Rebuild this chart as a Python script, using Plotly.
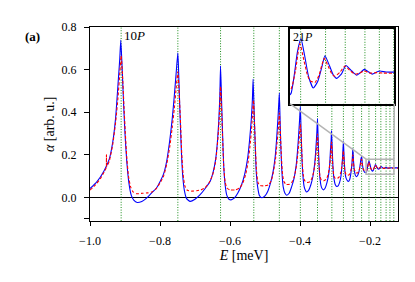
import plotly.graph_objects as go

# ---------------- data ----------------
# Rydberg P-exciton positions n = 10 ... 26 (meV)
peak_E = [-0.911, -0.749, -0.627, -0.532, -0.459, -0.399, -0.350, -0.309,
          -0.276, -0.248, -0.224, -0.203, -0.184, -0.169, -0.154, -0.143, -0.132]

blue_E = [-1.0, -0.98, -0.96, -0.945, -0.935, -0.927, -0.920, -0.915, -0.912, -0.908,
          -0.904, -0.900, -0.895, -0.889, -0.882, -0.875, -0.865, -0.852, -0.84, -0.825,
          -0.81, -0.80, -0.79, -0.781, -0.772, -0.765, -0.759, -0.754, -0.749, -0.746,
          -0.743, -0.739, -0.735, -0.730, -0.724, -0.714, -0.70, -0.686, -0.672, -0.657,
          -0.648, -0.641, -0.636, -0.632, -0.629, -0.627, -0.624, -0.621, -0.618, -0.614,
          -0.609, -0.603, -0.597, -0.588, -0.578, -0.567, -0.558, -0.550, -0.544, -0.539,
          -0.536, -0.534, -0.531, -0.528, -0.525, -0.521, -0.516, -0.509, -0.500, -0.492,
          -0.484, -0.477, -0.471, -0.467, -0.463, -0.461, -0.459, -0.457, -0.455, -0.452,
          -0.448, -0.443, -0.438, -0.431, -0.424, -0.417, -0.411, -0.407, -0.404, -0.401,
          -0.399, -0.397, -0.395, -0.392, -0.388, -0.384, -0.381, -0.375, -0.369, -0.363,
          -0.358, -0.355, -0.352, -0.350, -0.348, -0.346, -0.343, -0.339, -0.336, -0.333,
          -0.328, -0.323, -0.318, -0.315, -0.313, -0.311, -0.310, -0.308, -0.306, -0.303,
          -0.299, -0.295, -0.291, -0.287, -0.283, -0.280, -0.278, -0.276, -0.274, -0.272,
          -0.269, -0.265, -0.262, -0.258, -0.255, -0.252, -0.250, -0.249, -0.247, -0.245,
          -0.242, -0.239, -0.235, -0.231, -0.228, -0.226, -0.224, -0.222, -0.219, -0.216,
          -0.213, -0.2104, -0.208, -0.2055, -0.2028, -0.200, -0.197, -0.1934, -0.190, -0.187,
          -0.1845, -0.181, -0.178, -0.1756, -0.172, -0.1685, -0.164, -0.1603, -0.157, -0.1545,
          -0.151, -0.1484, -0.145, -0.1425, -0.138, -0.13, -0.12]
blue_A = [0.042, 0.075, 0.125, 0.18, 0.26, 0.37, 0.53, 0.65, 0.739, 0.60,
          0.44, 0.30, 0.17, 0.07, 0.01, -0.012, -0.023, -0.018, -0.005, 0.02,
          0.045, 0.074, 0.11, 0.17, 0.27, 0.37, 0.48, 0.58, 0.679, 0.55,
          0.40, 0.22, 0.10, 0.03, -0.005, -0.018, -0.008, 0.012, 0.04, 0.075,
          0.12, 0.18, 0.26, 0.36, 0.48, 0.618, 0.45, 0.29, 0.15, 0.06,
          0.01, -0.008, -0.011, -0.003, 0.02, 0.06, 0.11, 0.18, 0.27, 0.37,
          0.46, 0.556, 0.40, 0.25, 0.12, 0.05, 0.01, -0.001, 0.008, 0.03,
          0.07, 0.12, 0.19, 0.27, 0.37, 0.43, 0.49, 0.37, 0.25, 0.13,
          0.05, 0.02, 0.011, 0.02, 0.05, 0.09, 0.15, 0.22, 0.29, 0.37,
          0.427, 0.32, 0.21, 0.11, 0.05, 0.032, 0.026, 0.035, 0.06, 0.10,
          0.16, 0.22, 0.30, 0.37, 0.27, 0.17, 0.09, 0.05, 0.04, 0.036,
          0.045, 0.07, 0.11, 0.16, 0.22, 0.27, 0.314, 0.23, 0.15, 0.09,
          0.06, 0.052, 0.055, 0.07, 0.10, 0.15, 0.20, 0.264, 0.19, 0.13,
          0.095, 0.08, 0.075, 0.085, 0.11, 0.15, 0.20, 0.23, 0.17, 0.13,
          0.105, 0.098, 0.105, 0.125, 0.155, 0.18, 0.195, 0.16, 0.13, 0.12,
          0.116, 0.1185, 0.135, 0.158, 0.1708, 0.155, 0.135, 0.1238, 0.130, 0.143,
          0.1545, 0.145, 0.136, 0.133, 0.137, 0.1453, 0.140, 0.136, 0.139, 0.1416,
          0.139, 0.137, 0.139, 0.140, 0.139, 0.139, 0.139]

red_E = [-1.0, -0.985, -0.97, -0.958, -0.9535, -0.953, -0.9525, -0.945, -0.935, -0.927,
         -0.920, -0.915, -0.911, -0.907, -0.903, -0.899, -0.895, -0.890, -0.884, -0.877,
         -0.866, -0.85, -0.835, -0.822, -0.812, -0.80, -0.79, -0.781, -0.772, -0.765,
         -0.759, -0.754, -0.749, -0.745, -0.741, -0.738, -0.734, -0.729, -0.722, -0.71,
         -0.695, -0.683, -0.672, -0.66, -0.65, -0.642, -0.637, -0.633, -0.630, -0.627,
         -0.624, -0.621, -0.618, -0.614, -0.609, -0.60, -0.585, -0.572, -0.563, -0.555,
         -0.548, -0.543, -0.539, -0.536, -0.533, -0.530, -0.527, -0.524, -0.520, -0.514,
         -0.50, -0.49, -0.482, -0.476, -0.470, -0.466, -0.462, -0.459, -0.456, -0.453,
         -0.450, -0.446, -0.44, -0.43, -0.423, -0.416, -0.410, -0.406, -0.402, -0.399,
         -0.396, -0.394, -0.391, -0.387, -0.38, -0.372, -0.366, -0.361, -0.357, -0.354,
         -0.352, -0.350, -0.348, -0.346, -0.343, -0.339, -0.332, -0.326, -0.321, -0.317,
         -0.314, -0.312, -0.310, -0.308, -0.306, -0.303, -0.299, -0.293, -0.288, -0.284,
         -0.281, -0.278, -0.276, -0.274, -0.272, -0.269, -0.264, -0.259, -0.255, -0.252,
         -0.250, -0.249, -0.247, -0.245, -0.241, -0.236, -0.232, -0.229, -0.226, -0.224,
         -0.222, -0.219, -0.215, -0.2104, -0.207, -0.2036, -0.2005, -0.198, -0.196, -0.1921,
         -0.189, -0.187, -0.185, -0.1815, -0.179, -0.1769, -0.173, -0.1692, -0.165, -0.1616,
         -0.158, -0.1547, -0.150, -0.145, -0.14, -0.12]
red_A = [0.035, 0.058, 0.09, 0.125, 0.14, 0.20, 0.145, 0.17, 0.25, 0.35,
         0.47, 0.58, 0.665, 0.57, 0.43, 0.30, 0.19, 0.10, 0.05, 0.027,
         0.018, 0.02, 0.022, 0.027, 0.04, 0.068, 0.10, 0.155, 0.24, 0.33,
         0.42, 0.51, 0.59, 0.48, 0.34, 0.21, 0.11, 0.055, 0.034, 0.03,
         0.032, 0.036, 0.045, 0.068, 0.105, 0.16, 0.23, 0.31, 0.40, 0.52,
         0.41, 0.27, 0.15, 0.075, 0.045, 0.036, 0.036, 0.045, 0.07, 0.11,
         0.17, 0.24, 0.31, 0.38, 0.457, 0.35, 0.22, 0.12, 0.07, 0.056,
         0.055, 0.06, 0.08, 0.12, 0.18, 0.25, 0.32, 0.397, 0.30, 0.19,
         0.11, 0.075, 0.062, 0.062, 0.072, 0.10, 0.15, 0.21, 0.28, 0.345,
         0.26, 0.18, 0.11, 0.08, 0.071, 0.074, 0.09, 0.12, 0.16, 0.21,
         0.25, 0.298, 0.23, 0.16, 0.10, 0.082, 0.079, 0.085, 0.10, 0.13,
         0.17, 0.21, 0.26, 0.20, 0.14, 0.10, 0.09, 0.09, 0.097, 0.115,
         0.14, 0.18, 0.22, 0.17, 0.13, 0.11, 0.104, 0.108, 0.125, 0.15,
         0.18, 0.20, 0.16, 0.135, 0.117, 0.115, 0.123, 0.14, 0.165, 0.18,
         0.155, 0.133, 0.124, 0.123, 0.14, 0.166, 0.15, 0.137, 0.131, 0.129,
         0.136, 0.145, 0.152, 0.143, 0.137, 0.135, 0.139, 0.1447, 0.140, 0.137,
         0.138, 0.140, 0.138, 0.1385, 0.138, 0.138]

x_ticks = [-1.0, -0.8, -0.6, -0.4, -0.2]
x_ticktext = ["\u22121.0", "\u22120.8", "\u22120.6", "\u22120.4", "\u22120.2"]
y_ticks = [-0.1, 0.0, 0.2, 0.4, 0.6, 0.8]
y_ticktext = ["", "0.0", "0.2", "0.4", "0.6", "0.8"]

# ---------------- layout constants ----------------
x_range = [-1.0, -0.12]
y_range = [-0.11, 0.8]
inset_x_range = [-0.2112, -0.1316]
inset_y_range = [0.109, 0.18]
inset_dom_x = [0.649, 0.988]
inset_dom_y = [0.605, 0.99]

FONT = "Liberation Serif"
GREEN_DASH = "1px,1.6px"

fig = go.Figure()

inset_left_main = x_range[0] + inset_dom_x[0] * (x_range[1] - x_range[0])
inset_right_main = x_range[0] + inset_dom_x[1] * (x_range[1] - x_range[0])
inset_bottom_main = y_range[0] + inset_dom_y[0] * (y_range[1] - y_range[0])

# green dotted resonance lines (main) - stop below the inset where it covers them
gx, gy = [], []
for e in peak_E:
    top = inset_bottom_main if e > inset_left_main else y_range[1]
    gx += [e, e, None]
    gy += [y_range[0], top, None]
fig.add_trace(go.Scatter(x=gx, y=gy, mode="lines", line=dict(color="green", width=0.9, dash=GREEN_DASH),
                         hoverinfo="skip", showlegend=False))

line_blue = dict(color="blue", width=1.1, shape="spline", smoothing=0.5)
line_red = dict(color="red", width=1.1, dash="3px,2px", shape="spline", smoothing=0.5)

fig.add_trace(go.Scatter(x=blue_E, y=blue_A, mode="lines", line=line_blue, showlegend=False))
fig.add_trace(go.Scatter(x=red_E, y=red_A, mode="lines", line=line_red, showlegend=False))

# inset
ix, iy = [], []
for e in peak_E:
    ix += [e, e, None]
    iy += [inset_y_range[0] - 1, inset_y_range[1] + 1, None]
fig.add_trace(go.Scatter(x=ix, y=iy, mode="lines", line=dict(color="green", width=0.9, dash=GREEN_DASH),
                         xaxis="x2", yaxis="y2", hoverinfo="skip", showlegend=False))
fig.add_trace(go.Scatter(x=blue_E, y=blue_A, mode="lines", line=line_blue,
                         xaxis="x2", yaxis="y2", showlegend=False))
fig.add_trace(go.Scatter(x=red_E, y=red_A, mode="lines", line=line_red,
                         xaxis="x2", yaxis="y2", showlegend=False))

# gray zoom rectangle and connectors
gray = "#b4b4b4"
fig.add_shape(type="rect", xref="x", yref="y", x0=inset_x_range[0], x1=inset_x_range[1],
              y0=inset_y_range[0], y1=inset_y_range[1], line=dict(color=gray, width=1.5))
fig.add_shape(type="line", xref="x", yref="y", x0=inset_left_main, y0=inset_bottom_main,
              x1=inset_x_range[0], y1=inset_y_range[1], line=dict(color=gray, width=1.5))
fig.add_shape(type="line", xref="x", yref="y", x0=inset_right_main, y0=inset_bottom_main,
              x1=inset_x_range[1], y1=inset_y_range[1], line=dict(color=gray, width=1.5))

# the page body adds an 8 px offset, so the figure is 8 px smaller and margins shifted
fig.update_layout(
    width=407, height=274,
    margin=dict(l=82, r=17, t=13, b=61),
    paper_bgcolor="white", plot_bgcolor="white",
    font=dict(family=FONT, size=12, color="black"),
    xaxis=dict(range=x_range, tickvals=x_ticks, ticktext=x_ticktext, ticks="outside", ticklen=4,
               tickwidth=1, tickcolor="black", showline=True, linecolor="black", linewidth=1.3,
               mirror=True, showgrid=False, zeroline=False, ticklabelstandoff=4,
               title=dict(text="<i>E</i> [meV]", font=dict(size=14, family=FONT), standoff=3),
               tickfont=dict(size=12, family=FONT)),
    yaxis=dict(range=y_range, tickvals=y_ticks, ticktext=y_ticktext, ticks="outside", ticklen=5,
               tickwidth=1, tickcolor="black", showline=True, linecolor="black", linewidth=1.3,
               mirror=True, showgrid=False, zeroline=True, zerolinecolor="black", zerolinewidth=1,
               ticklabelstandoff=5, tickfont=dict(size=12, family=FONT)),
    xaxis2=dict(domain=inset_dom_x, anchor="y2", range=inset_x_range, showticklabels=False,
                ticks="", showline=True, linecolor="black", linewidth=2, mirror=True,
                showgrid=False, zeroline=False),
    yaxis2=dict(domain=inset_dom_y, anchor="x2", range=inset_y_range, showticklabels=False,
                ticks="", showline=True, linecolor="black", linewidth=2, mirror=True,
                showgrid=False, zeroline=False),
    annotations=[
        dict(text="<i>\u03b1</i> [arb. u.]", xref="paper", yref="paper", x=-0.133, y=0.5,
             xanchor="center", yanchor="middle", textangle=-90, showarrow=False,
             font=dict(size=14, family=FONT)),
        dict(text="<b>(a)</b>", xref="paper", yref="paper", x=-0.188, y=0.95, xanchor="center",
             yanchor="middle", showarrow=False, font=dict(size=13, family=FONT)),
        dict(text="10<i>P</i>", xref="x", yref="y", x=peak_E[0], y=0.8, xanchor="left",
             yanchor="top", xshift=1, yshift=1, showarrow=False, font=dict(size=13, family=FONT)),
        dict(text="21<i>P</i>", xref="x2 domain", yref="y2 domain", x=0.0, y=1.0, xanchor="left",
             yanchor="top", xshift=1, yshift=1, showarrow=False, font=dict(size=12, family=FONT)),
    ],
)

fig.write_html("out.html")
